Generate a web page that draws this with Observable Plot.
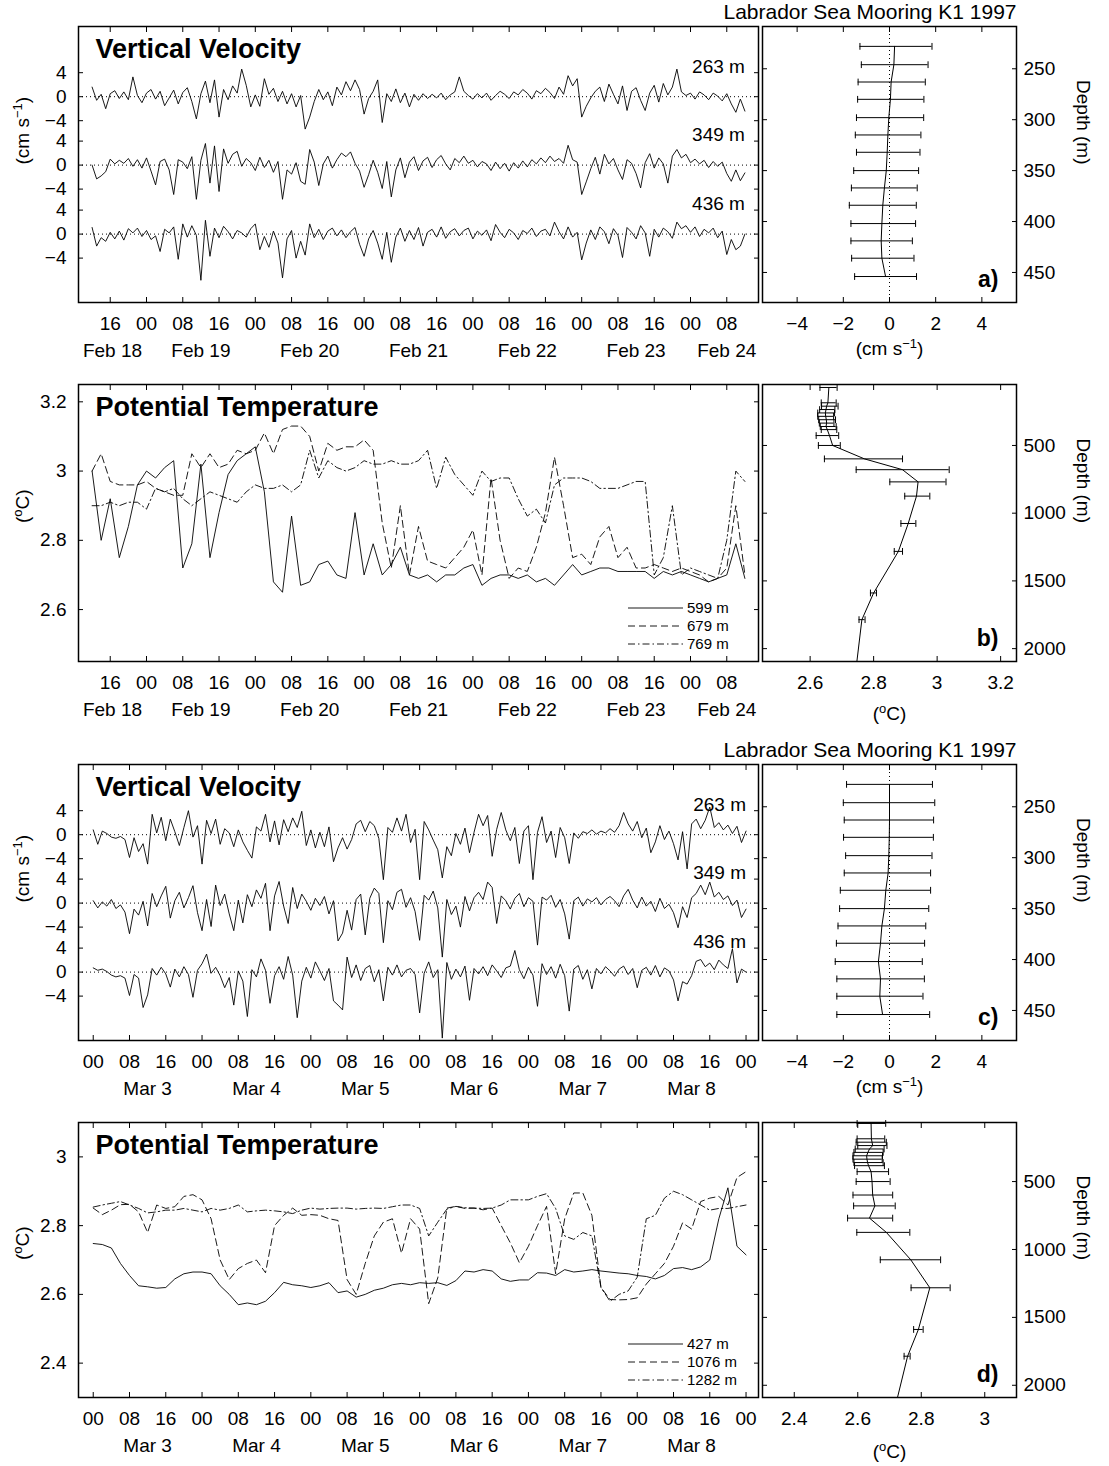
<!DOCTYPE html>
<html><head><meta charset="utf-8">
<script src="https://cdn.jsdelivr.net/npm/d3@7"></script>
<script src="https://cdn.jsdelivr.net/npm/@observablehq/plot@0.6"></script>
<style>
body{margin:0;background:#fff;}
#fig{position:relative;width:1109px;height:1466px;background:#fff;}
</style></head>
<body><div id="fig"></div>
<script>
// ---------------- DATA ----------------
const H = 3600e3;
const febVelStart = Date.UTC(1997,1,18,12);   // hourly samples
const marVelStart = Date.UTC(1997,2,3,0);
const febTempStart = Date.UTC(1997,1,18,12);  // 2-hourly samples
const marTempStart = Date.UTC(1997,2,3,0);

const velSeriesNames = ["263 m","349 m","436 m"];
const velOffsets = [0,-11.4,-22.9];
const velTickValues = [4,0,-4];

const febVel263 = [1.6,-0.6,0.4,-2.0,0.5,1.0,-0.3,0.8,-0.5,3.3,
0.2,-1.0,0.6,1.2,-0.4,0.9,-1.5,-0.2,1.1,-1.2,
0.7,1.5,-0.8,-3.7,0.5,2.6,-1.0,2.8,-3.4,1.2,
-0.5,1.8,0.6,4.6,1.9,-1.7,0.3,-1.6,3.0,0.4,
1.4,-0.8,0.9,-1.2,0.5,-1.7,0.2,-5.4,-3.4,-0.8,
1.2,-0.5,0.8,-1.5,1.6,0.3,2.5,1.0,2.8,1.2,
-2.9,-0.3,0.9,2.8,-4.3,0.5,-0.8,1.3,-1.0,0.6,
-1.7,0.4,-0.6,0.5,-0.3,0.4,-0.2,0.6,-0.5,0.3,
0.8,3.3,0.9,0.2,-0.4,0.5,-0.2,0.6,-0.6,0.2,
0.9,0.4,-0.3,0.8,0.3,1.2,0.6,-0.4,1.0,0.5,
1.4,0.7,-0.3,1.6,0.4,3.5,1.8,3.0,-3.4,-1.6,
-0.2,0.9,1.6,-0.8,2.1,0.4,-1.2,1.8,-2.3,0.9,
1.5,-0.6,-2.3,0.6,1.9,-0.9,2.2,0.3,1.6,4.6,
0.8,0.2,0.6,-0.4,0.8,0.3,-0.5,0.6,0.1,-0.7,
0.5,-1.2,-2.6,-0.4,-2.4];
const febVel349 = [0.0,-2.3,-1.8,-1.1,1.0,0.2,0.8,0.3,1.1,-0.2,
0.9,-0.5,1.2,-1.0,-3.3,0.6,1.0,-0.8,-4.9,0.9,
0.5,-0.6,1.4,-5.7,0.8,3.6,-3.0,3.2,-4.4,2.7,
0.3,1.8,2.3,-0.2,1.1,0.4,-0.9,1.3,-0.4,0.8,
-1.2,0.6,-5.7,-0.8,-1.5,0.4,-2.7,-3.2,2.6,0.5,
-3.4,0.2,1.5,-0.5,0.9,2.0,1.4,2.2,0.3,-1.0,
-3.7,-1.6,0.8,-1.2,-3.9,0.6,-5.3,-0.8,1.2,-2.1,
0.5,1.4,-0.9,0.7,1.3,-0.4,0.9,1.6,0.2,-0.8,
1.1,0.4,1.5,0.3,0.8,-0.3,0.6,0.2,-0.9,0.5,
-0.6,0.3,-1.0,0.4,-0.5,0.7,-0.3,0.9,0.2,1.2,
0.4,1.5,0.6,1.1,0.3,3.3,0.9,0.5,-4.9,-2.8,
-0.6,1.3,-1.5,1.8,0.2,1.1,-0.8,-2.4,0.9,0.3,
-1.4,-3.8,0.4,1.9,-0.5,1.2,0.2,-3.0,1.5,2.6,
1.2,1.8,0.4,1.0,0.2,0.8,-0.4,0.6,-0.2,0.5,
-1.4,-2.7,-0.8,-2.6,-1.3];
const febVel436 = [1.1,-2.0,-0.6,-1.2,0.3,-0.8,0.5,-1.0,0.9,0.2,
1.0,-0.4,0.6,-0.9,-0.3,-2.9,0.8,0.2,1.2,-4.2,
1.7,-0.5,1.4,-0.2,-7.7,2.3,-3.7,1.0,-0.6,1.3,
0.4,-0.8,0.6,0.2,-0.5,0.9,1.7,-2.6,-0.4,-2.2,
0.5,-1.5,-7.3,-0.8,0.6,-4.0,-1.2,-3.5,1.7,-0.6,
0.8,-0.9,0.5,1.0,-0.3,0.7,-0.6,0.4,1.1,-1.7,
-3.7,-0.8,0.6,-1.5,-4.2,0.3,-4.7,-0.5,1.0,-1.2,
0.6,-0.9,1.1,-2.0,0.3,0.8,-0.5,1.2,-0.7,0.4,
0.9,-0.3,0.6,1.0,-0.8,0.5,-0.2,0.7,-1.1,1.6,
0.3,-0.6,0.8,0.2,-0.9,0.6,0.1,1.0,-0.4,0.5,
0.8,-0.3,2.0,0.4,-0.8,1.2,-0.5,0.3,-4.3,-1.5,
0.7,-0.9,1.2,0.4,-1.6,0.9,-0.2,-3.9,1.1,0.3,
-0.8,1.4,0.2,-3.7,0.8,-0.5,1.0,0.4,-0.7,2.0,
0.9,1.4,0.3,1.2,-0.4,0.8,0.2,1.0,-0.6,0.5,
-3.4,-0.9,-2.6,-2.0,0.0];

const marVel263 = [0.8,-1.6,0.6,0.2,-0.4,-0.6,-0.3,-0.8,-3.8,-0.5,
-2.8,-1.5,-4.9,3.4,0.3,2.9,-1.0,2.6,0.5,-1.8,
1.2,4.0,-0.4,1.5,-4.9,2.4,0.2,2.6,-1.6,1.0,
0.3,-2.0,0.8,-1.2,-2.6,-3.9,1.3,0.6,3.4,-1.2,
2.3,-1.7,2.5,0.5,2.8,1.2,3.9,-1.8,0.8,-2.2,
0.4,-2.0,1.3,-4.5,-2.2,-0.5,-2.4,-0.8,1.8,2.4,
0.5,2.2,1.5,-0.6,-7.5,1.2,0.4,2.8,0.6,3.4,
-1.3,0.9,-7.5,2.2,0.8,-0.9,-2.5,-7.2,-2.0,-3.5,
0.2,-1.6,1.1,-3.0,0.4,3.4,1.5,3.2,-3.6,0.9,
3.7,0.8,-1.0,1.2,-4.8,0.6,1.5,-7.5,0.4,3.0,
-1.3,0.6,-3.8,1.2,-0.5,-4.8,0.3,-0.6,0.5,0.2,
0.8,0.1,0.6,0.3,1.0,0.4,1.5,3.7,1.8,0.6,
2.2,-0.5,1.1,-3.0,-1.2,1.5,-0.8,0.6,-1.5,-4.2,
0.5,-5.7,1.8,2.6,1.0,2.4,4.6,1.2,2.0,0.8,
1.6,0.2,1.4,-1.3,0.6];
const marVel349 = [0.4,-0.8,0.2,-0.5,0.6,-0.9,-0.3,-1.5,-5.1,-1.0,
-2.0,0.3,-3.8,1.6,-0.6,1.2,2.8,-2.5,0.4,1.8,
-0.8,0.9,2.9,-1.6,-4.6,0.6,-3.9,3.0,-0.4,1.5,
-1.8,-4.6,0.5,-3.3,1.4,-0.6,2.2,0.8,3.3,-4.6,
1.2,3.6,-0.5,-3.4,2.6,-0.9,1.5,0.3,-1.2,0.8,
-0.4,1.1,-1.8,0.4,-6.3,-5.0,-1.2,-4.5,0.6,1.5,
-5.3,0.8,2.5,1.6,-6.6,0.4,-1.1,1.8,2.3,-0.7,
0.9,-1.4,-6.2,1.3,0.5,2.0,-0.8,-9.0,0.6,-1.9,
-0.5,-4.0,1.1,-1.3,0.9,1.8,0.6,3.5,2.6,-3.4,
1.2,0.4,-1.0,0.8,1.6,-0.6,0.9,0.3,-7.0,1.0,
0.5,1.3,-0.7,0.6,-1.8,-6.0,0.4,1.0,-0.5,0.7,
0.2,0.9,-0.3,0.6,1.1,0.4,-0.6,1.2,2.3,0.5,
-0.8,1.0,-0.5,0.3,-1.4,0.8,-0.9,-0.2,-1.6,-4.1,
-0.6,-2.4,0.9,1.6,3.0,1.4,3.5,1.0,1.8,0.6,
1.2,-0.4,0.5,-2.4,-1.0];
const marVel436 = [0.7,0.3,0.5,0.1,-0.5,-0.8,-0.6,-1.0,-3.9,-0.4,
-1.0,-5.9,-3.8,0.6,-0.5,0.8,-0.3,-2.5,0.5,-0.8,
0.9,-0.4,-4.2,0.3,1.4,3.0,-0.2,0.8,-0.6,-2.6,
-0.9,-5.5,0.2,-1.5,-7.4,0.4,-0.8,2.2,0.3,-5.2,
-0.6,0.9,-1.2,2.6,-0.5,-7.6,-1.5,0.8,-1.0,1.7,
0.2,-1.4,0.6,-4.8,-5.5,-6.3,2.5,-0.9,1.2,-1.4,
0.6,1.1,-1.6,0.4,-4.8,0.8,-0.5,1.2,-0.8,0.3,
0.6,-0.4,-6.8,-0.2,1.7,-0.9,0.4,-11.0,1.6,-1.2,
0.5,-0.8,1.0,-4.7,0.6,-0.3,0.9,-0.6,1.2,0.2,
-0.9,0.7,1.0,3.6,0.4,-1.1,0.8,-0.5,-5.7,1.4,
-0.4,0.9,-1.0,1.3,-0.6,-6.5,0.5,1.1,-1.2,0.4,
-2.8,0.6,-0.3,0.9,0.2,-0.7,0.5,1.0,-0.4,0.6,
-2.6,0.3,0.8,-0.5,1.1,-0.8,0.7,0.2,-1.3,-4.8,
-1.6,-2.0,-0.6,1.8,2.1,0.9,1.5,0.4,2.0,1.2,
0.6,3.9,-1.8,0.5,0.0];

// Potential temperature (deg C), 2-hourly
const febTempNames = ["599 m","679 m","769 m"];
const febT599 = [3.00,2.80,2.92,2.75,2.84,2.96,3.00,2.98,3.01,3.03,
2.72,2.79,3.02,2.75,2.88,2.99,3.03,3.05,3.07,2.94,
2.68,2.65,2.87,2.67,2.68,2.73,2.74,2.70,2.69,2.88,
2.70,2.79,2.70,2.73,2.78,2.70,2.69,2.70,2.68,2.70,
2.70,2.72,2.73,2.67,2.69,2.70,2.70,2.69,2.70,2.68,
2.69,2.67,2.70,2.73,2.70,2.71,2.72,2.72,2.71,2.71,
2.71,2.71,2.69,2.71,2.70,2.71,2.70,2.69,2.68,2.69,
2.70,2.79,2.69];
const febT679 = [3.00,3.05,2.97,2.96,2.96,2.96,2.97,2.95,2.94,2.93,
2.93,3.05,3.01,3.05,3.01,3.02,3.06,3.05,3.06,3.11,
3.05,3.12,3.13,3.13,3.10,3.00,3.08,3.06,3.07,3.07,
3.09,3.06,2.85,2.72,2.90,2.70,2.84,2.74,2.73,2.72,
2.75,2.78,2.83,2.70,2.98,2.80,2.69,2.72,2.71,2.78,
2.88,3.04,2.90,2.75,2.76,2.73,2.81,2.84,2.75,2.78,
2.72,2.72,2.73,2.72,2.71,2.72,2.71,2.70,2.68,2.69,
2.72,2.90,2.70];
const febT769 = [2.90,2.90,2.91,2.90,2.91,2.91,2.89,2.95,2.94,2.95,
2.92,2.90,2.92,2.94,2.93,2.92,2.91,2.94,2.96,2.95,
2.95,2.96,2.94,2.96,3.06,2.98,3.03,3.01,3.00,3.01,
3.03,3.02,3.02,3.03,3.02,3.02,3.03,3.06,2.95,3.04,
2.99,2.96,2.93,3.00,2.97,2.98,2.98,2.92,2.87,2.89,
2.85,2.96,2.98,2.98,2.98,2.97,2.95,2.95,2.95,2.96,
2.97,2.97,2.70,2.75,2.90,2.70,2.72,2.71,2.70,2.69,
2.80,3.00,2.97];

const marTempNames = ["427 m","1076 m","1282 m"];
const marT427 = [2.748,2.745,2.735,2.69,2.655,2.625,2.622,2.618,2.62,2.645,
2.66,2.665,2.665,2.66,2.625,2.60,2.57,2.575,2.57,2.58,
2.605,2.635,2.628,2.625,2.62,2.625,2.634,2.605,2.61,2.592,
2.60,2.612,2.618,2.628,2.632,2.628,2.634,2.632,2.634,2.626,
2.64,2.668,2.665,2.672,2.668,2.645,2.638,2.642,2.642,2.663,
2.662,2.655,2.672,2.665,2.668,2.672,2.668,2.665,2.662,2.66,
2.655,2.652,2.645,2.655,2.675,2.678,2.672,2.68,2.70,2.82,
2.91,2.74,2.715];
const marT1076 = [2.851,2.832,2.845,2.861,2.862,2.84,2.78,2.86,2.85,2.855,
2.885,2.89,2.875,2.82,2.70,2.643,2.675,2.69,2.70,2.663,
2.80,2.83,2.851,2.83,2.832,2.83,2.82,2.815,2.643,2.60,
2.69,2.77,2.81,2.82,2.72,2.82,2.79,2.573,2.648,2.851,
2.856,2.85,2.851,2.846,2.851,2.80,2.75,2.692,2.74,2.80,
2.856,2.66,2.82,2.895,2.895,2.83,2.62,2.585,2.584,2.585,
2.59,2.63,2.66,2.69,2.74,2.808,2.79,2.87,2.88,2.885,
2.86,2.94,2.957];
const marT1282 = [2.854,2.86,2.865,2.87,2.86,2.85,2.837,2.84,2.845,2.845,
2.85,2.845,2.84,2.85,2.845,2.85,2.86,2.84,2.843,2.845,
2.843,2.84,2.835,2.845,2.851,2.848,2.85,2.851,2.851,2.848,
2.85,2.851,2.85,2.855,2.86,2.86,2.85,2.77,2.81,2.848,
2.856,2.852,2.851,2.85,2.851,2.86,2.875,2.875,2.875,2.885,
2.893,2.85,2.77,2.76,2.78,2.77,2.62,2.58,2.60,2.61,
2.65,2.82,2.83,2.88,2.90,2.89,2.875,2.86,2.845,2.85,
2.85,2.855,2.86];

// Profiles: vertical velocity mean and range
const velDepths = [228,246,263,280,298,315,332,350,367,384,402,419,436,454];
const aMean = [0.22,0.19,0.07,0.04,-0.03,-0.07,-0.10,-0.14,-0.22,-0.29,-0.33,-0.36,-0.33,-0.17];
const aLo = [-1.28,-1.22,-1.36,-1.38,-1.43,-1.48,-1.43,-1.55,-1.65,-1.74,-1.67,-1.67,-1.64,-1.51];
const aHi = [1.84,1.67,1.55,1.49,1.48,1.36,1.32,1.26,1.20,1.16,1.13,0.99,1.06,1.17];
const cMean = [0.00,0.00,0.00,-0.01,-0.03,-0.06,-0.16,-0.22,-0.33,-0.39,-0.48,-0.39,-0.42,-0.30];
const cLo = [-1.86,-2.00,-1.96,-1.99,-1.90,-1.96,-2.13,-2.16,-2.23,-2.30,-2.35,-2.28,-2.28,-2.28];
const cHi = [1.86,1.96,1.91,1.90,1.84,1.78,1.78,1.70,1.57,1.52,1.42,1.51,1.45,1.74];

// Profiles: potential temperature mean and range
const tempDepths = [72,185,210,235,260,285,310,335,360,383,427,500,599,679,769,874,1076,1282,1589,1786,2120];
const bMean = [2.659,2.656,2.652,2.650,2.648,2.649,2.651,2.652,2.650,2.654,2.661,2.671,2.771,2.891,2.940,2.935,2.909,2.878,2.800,2.763,2.746];
const bLo = [2.631,2.635,2.636,2.630,2.624,2.624,2.627,2.629,2.632,2.635,2.619,2.626,2.645,2.745,2.851,2.898,2.886,2.865,2.790,2.754,null];
const bHi = [2.685,2.682,2.688,2.678,2.677,2.674,2.680,2.675,2.682,2.684,2.690,2.695,2.891,3.038,3.028,2.977,2.933,2.891,2.809,2.773,null];
const dMean = [2.642,2.643,2.645,2.647,2.637,2.632,2.628,2.629,2.631,2.634,2.642,2.645,2.647,2.654,2.637,2.690,2.767,2.827,2.791,2.757,2.722];
const dLo = [2.598,2.598,2.595,2.600,2.592,2.588,2.585,2.585,2.588,2.590,2.598,2.595,2.585,2.587,2.568,2.597,2.671,2.768,2.776,2.746,null];
const dHi = [2.688,2.685,2.690,2.692,2.683,2.680,2.678,2.677,2.680,2.684,2.697,2.702,2.710,2.718,2.710,2.764,2.861,2.891,2.806,2.765,null];

// Axis / label text
const febDayLabels = ["Feb 18","Feb 19","Feb 20","Feb 21","Feb 22","Feb 23","Feb 24"];
const febDayLabelTimes = ["1997-02-18T16:30Z","1997-02-19T12:00Z","1997-02-20T12:00Z","1997-02-21T12:00Z","1997-02-22T12:00Z","1997-02-23T12:00Z","1997-02-24T08:00Z"];
const marDayLabels = ["Mar 3","Mar 4","Mar 5","Mar 6","Mar 7","Mar 8"];
const marDayLabelTimes = ["1997-03-03T12:00Z","1997-03-04T12:00Z","1997-03-05T12:00Z","1997-03-06T12:00Z","1997-03-07T12:00Z","1997-03-08T12:00Z"];
const febDomain = [new Date("1997-02-18T09:00Z"), new Date("1997-02-24T15:00Z")];
const marDomain = [new Date("1997-03-02T20:45Z"), new Date("1997-03-09T02:45Z")];
const velProfTicks = [-4,-2,0,2,4];
const velDepthTicks = [250,300,350,400,450];
const tempDepthTicks = [500,1000,1500,2000];
const figTitle = "Labrador Sea Mooring K1 1997";

// ---------------- DRAWING ----------------
const FONT = "'Liberation Sans', Arial, Helvetica, sans-serif";
const FS = 19;
const fig = document.getElementById("fig");
const fmtH = d3.utcFormat("%H");
const minus = v => (v < 0 ? "\u2212" + Math.abs(v) : String(v));
const STYLE = {fontFamily: FONT, fontSize: FS + "px", color: "black", background: "none", overflow: "visible"};

function place(svg, x, y) {
  svg.style.position = "absolute";
  svg.style.left = x + "px";
  svg.style.top = y + "px";
  fig.appendChild(svg);
}
function supify(svg) {
  d3.select(svg).selectAll("text").each(function() {
    const m = /^(.*)\^\{(.+?)\}(.*)$/.exec(this.textContent);
    if (!m) return;
    const el = d3.select(this);
    el.text(null);
    el.append("tspan").text(m[1]);
    el.append("tspan").attr("dy", -7).attr("font-size", 13).text(m[2]);
    el.append("tspan").attr("dy", 7).text(m[3]);
  });
}
function series(arr, start, step, offset = 0, name = "") {
  return arr.map((v, i) => ({t: new Date(start + i * step), v: v + offset, s: name}));
}

const LW = 770, ML = 78, MR = 12, MT = 26, MB = 62;
function timeAxes(o) {
  const hourTicks = d3.utcHour.every(8).range(o.xDomain[0], o.xDomain[1]);
  return [
    Plot.axisX(hourTicks, {anchor: "bottom", tickSize: -5, fill: "none", label: null}),
    Plot.axisX(hourTicks, {anchor: "top", tickSize: -5, fill: "none", label: null}),
    Plot.axisX(hourTicks, {anchor: "bottom", tickSize: 0, tickPadding: 14, tickFormat: fmtH, label: null}),
    Plot.text(o.dayTimes.map(d => new Date(d)), {x: d => d, text: (d, i) => o.dayLabels[i], frameAnchor: "bottom", dy: 41, lineAnchor: "top"}),
    Plot.axisY(o.yTicks, {anchor: "left", tickSize: -5, fill: "none", label: null}),
    Plot.axisY(o.yTicks, {anchor: "right", tickSize: -5, fill: "none", label: null}),
    Plot.axisY(o.yTicks, {anchor: "left", tickSize: 0, tickPadding: 12, tickFormat: o.yFmt, label: null}),
    Plot.text([o.ylabel], {frameAnchor: "left", dx: -56, rotate: -90, lineAnchor: "middle"}),
    Plot.text([o.title], {frameAnchor: "top-left", dx: 17, dy: 12, lineAnchor: "top", textAnchor: "start", fontWeight: "bold", fontSize: 27})
  ];
}

function velPanel(o) {
  const rows = o.arrays.flatMap((a, k) => series(a, o.start, H, velOffsets[k], k));
  const last = new Date(o.start + (o.arrays[0].length - 1) * H);
  const yTicks = velOffsets.flatMap(off => velTickValues.map(v => v + off));
  const yFmt = v => {
    const off = velOffsets.reduce((a, b) => Math.abs(v - b) < Math.abs(v - a) ? b : a);
    return minus(Math.round(v - off));
  };
  const svg = Plot.plot({
    width: LW, height: MT + o.boxH + MB, marginLeft: ML, marginRight: MR, marginTop: MT, marginBottom: MB,
    style: STYLE,
    x: {type: "utc", domain: o.xDomain},
    y: {domain: [-34.3, 11.7]},
    marks: [
      Plot.ruleY(velOffsets, {strokeDasharray: "1,3", strokeWidth: 1}),
      Plot.line(rows, {x: "t", y: "v", z: "s", strokeWidth: 0.9}),
      Plot.text(velSeriesNames.map((n, k) => ({t: last, y: velOffsets[k], n})), {x: "t", y: "y", text: "n", textAnchor: "end", dy: -30, lineAnchor: "middle"}),
      ...timeAxes({...o, yTicks, yFmt, ylabel: "(cm s^{\u22121})", title: "Vertical Velocity"}),
      Plot.frame({strokeWidth: 1.5})
    ]
  });
  supify(svg);
  place(svg, 0, o.boxTop - MT);
}

const DASH = ["none", "7,4", "7,3,1.5,3"];
function tempPanel(o) {
  const lines = o.arrays.map((a, k) => Plot.line(series(a, o.start, 2 * H), {x: "t", y: "v", strokeWidth: 0.9, strokeDasharray: DASH[k]}));
  const svg = Plot.plot({
    width: LW, height: MT + o.boxH + MB, marginLeft: ML, marginRight: MR, marginTop: MT, marginBottom: MB,
    style: STYLE,
    x: {type: "utc", domain: o.xDomain},
    y: {domain: o.yDomain},
    marks: [
      ...lines,
      ...timeAxes({...o, yFmt: v => String(v), ylabel: "(^{o}C)", title: "Potential Temperature"}),
      Plot.frame({strokeWidth: 1.5})
    ]
  });
  // legend (inside frame, bottom-right)
  const right = LW - MR, bottom = MT + o.boxH;
  const g = d3.select(svg).append("g").attr("font-size", 15).attr("font-family", FONT)
    .attr("fill", "black").attr("text-anchor", "start");
  o.names.forEach((n, k) => {
    const y = bottom - 53 + k * 18;
    g.append("line").attr("x1", right - 130).attr("x2", right - 75).attr("y1", y).attr("y2", y)
      .attr("stroke", "black").attr("stroke-width", 0.9).attr("stroke-dasharray", DASH[k]);
    g.append("text").attr("x", right - 71).attr("y", y).attr("dy", "0.35em").text(n);
  });
  supify(svg);
  place(svg, 0, o.boxTop - MT);
}

const RX = 740, RW = 369, RML = 22, RMR = 93;
function profPanel(o) {
  const rows = o.depths.map((d, i) => ({d, m: o.mean[i], lo: o.lo[i], hi: o.hi[i]}));
  const bars = rows.filter(r => r.lo != null);
  const cap = {draw(ctx, l) { ctx.moveTo(0, -l / 2); ctx.lineTo(0, l / 2); }};
  const svg = Plot.plot({
    width: RW, height: MT + o.boxH + MB, marginLeft: RML, marginRight: RMR, marginTop: MT, marginBottom: MB,
    style: STYLE,
    x: {domain: o.xDomain},
    y: {domain: o.yDomain, reverse: true},
    marks: [
      o.zero ? Plot.ruleX([0], {strokeDasharray: "1,3", strokeWidth: 1}) : null,
      Plot.ruleY(bars, {y: "d", x1: "lo", x2: "hi", strokeWidth: 1}),
      Plot.vector(bars, {x: "lo", y: "d", length: 6, anchor: "start", shape: cap, strokeWidth: 1}),
      Plot.vector(bars, {x: "hi", y: "d", length: 6, anchor: "start", shape: cap, strokeWidth: 1}),
      Plot.line(rows, {x: "m", y: "d", strokeWidth: 1, clip: true}),
      Plot.axisX(o.xTicks, {anchor: "bottom", tickSize: -5, fill: "none", label: null}),
      Plot.axisX(o.xTicks, {anchor: "top", tickSize: -5, fill: "none", label: null}),
      Plot.axisX(o.xTicks, {anchor: "bottom", tickSize: 0, tickPadding: 14, tickFormat: minus, label: null}),
      Plot.axisY(o.yTicks, {anchor: "left", tickSize: -5, fill: "none", label: null}),
      Plot.axisY(o.yTicks, {anchor: "right", tickSize: -5, fill: "none", label: null}),
      Plot.axisY(o.yTicks, {anchor: "right", tickSize: 0, tickPadding: 7, tickFormat: d => String(d), label: null}),
      Plot.text([o.xlabel], {frameAnchor: "bottom", dy: o.xlabelDy, lineAnchor: "middle"}),
      Plot.text(["Depth (m)"], {frameAnchor: "right", dx: 67, rotate: 90, lineAnchor: "middle"}),
      Plot.text([o.letter], {frameAnchor: "bottom-right", dx: -18, dy: -23, textAnchor: "end", lineAnchor: "middle", fontWeight: "bold", fontSize: 23}),
      o.title ? Plot.text([o.title], {frameAnchor: "top-right", dy: -14, textAnchor: "end", lineAnchor: "middle", fontSize: 21}) : null,
      Plot.frame({strokeWidth: 1.5})
    ]
  });
  supify(svg);
  place(svg, RX, o.boxTop - MT);
}

// Row 1
velPanel({arrays: [febVel263, febVel349, febVel436], start: febVelStart, xDomain: febDomain,
  dayLabels: febDayLabels, dayTimes: febDayLabelTimes, boxTop: 26, boxH: 276});
profPanel({depths: velDepths, mean: aMean, lo: aLo, hi: aHi, xDomain: [-5.5, 5.5], xTicks: velProfTicks,
  yDomain: [208.5, 479.5], yTicks: velDepthTicks, xlabel: "(cm s^{\u22121})", xlabelDy: 46, letter: "a)", title: figTitle, zero: true, boxTop: 26, boxH: 276});
// Row 2
tempPanel({arrays: [febT599, febT679, febT769], names: febTempNames, start: febTempStart, xDomain: febDomain,
  yDomain: [2.45, 3.25], yTicks: [2.6, 2.8, 3, 3.2], dayLabels: febDayLabels, dayTimes: febDayLabelTimes, boxTop: 384, boxH: 277});
profPanel({depths: tempDepths, mean: bMean, lo: bLo, hi: bHi, xDomain: [2.45, 3.25], xTicks: [2.6, 2.8, 3, 3.2],
  yDomain: [50, 2095], yTicks: tempDepthTicks, xlabel: "(^{o}C)", xlabelDy: 52, letter: "b)", zero: false, boxTop: 384, boxH: 277});
// Row 3
velPanel({arrays: [marVel263, marVel349, marVel436], start: marVelStart, xDomain: marDomain,
  dayLabels: marDayLabels, dayTimes: marDayLabelTimes, boxTop: 764, boxH: 276});
profPanel({depths: velDepths, mean: cMean, lo: cLo, hi: cHi, xDomain: [-5.5, 5.5], xTicks: velProfTicks,
  yDomain: [208.5, 479.5], yTicks: velDepthTicks, xlabel: "(cm s^{\u22121})", xlabelDy: 46, letter: "c)", title: figTitle, zero: true, boxTop: 764, boxH: 276});
// Row 4
tempPanel({arrays: [marT427, marT1076, marT1282], names: marTempNames, start: marTempStart, xDomain: marDomain,
  yDomain: [2.3, 3.1], yTicks: [2.4, 2.6, 2.8, 3], dayLabels: marDayLabels, dayTimes: marDayLabelTimes, boxTop: 1122, boxH: 275});
profPanel({depths: tempDepths, mean: dMean, lo: dLo, hi: dHi, xDomain: [2.3, 3.1], xTicks: [2.4, 2.6, 2.8, 3],
  yDomain: [65, 2090], yTicks: tempDepthTicks, xlabel: "(^{o}C)", xlabelDy: 54, letter: "d)", zero: false, boxTop: 1122, boxH: 275});
</script>
</body></html>
